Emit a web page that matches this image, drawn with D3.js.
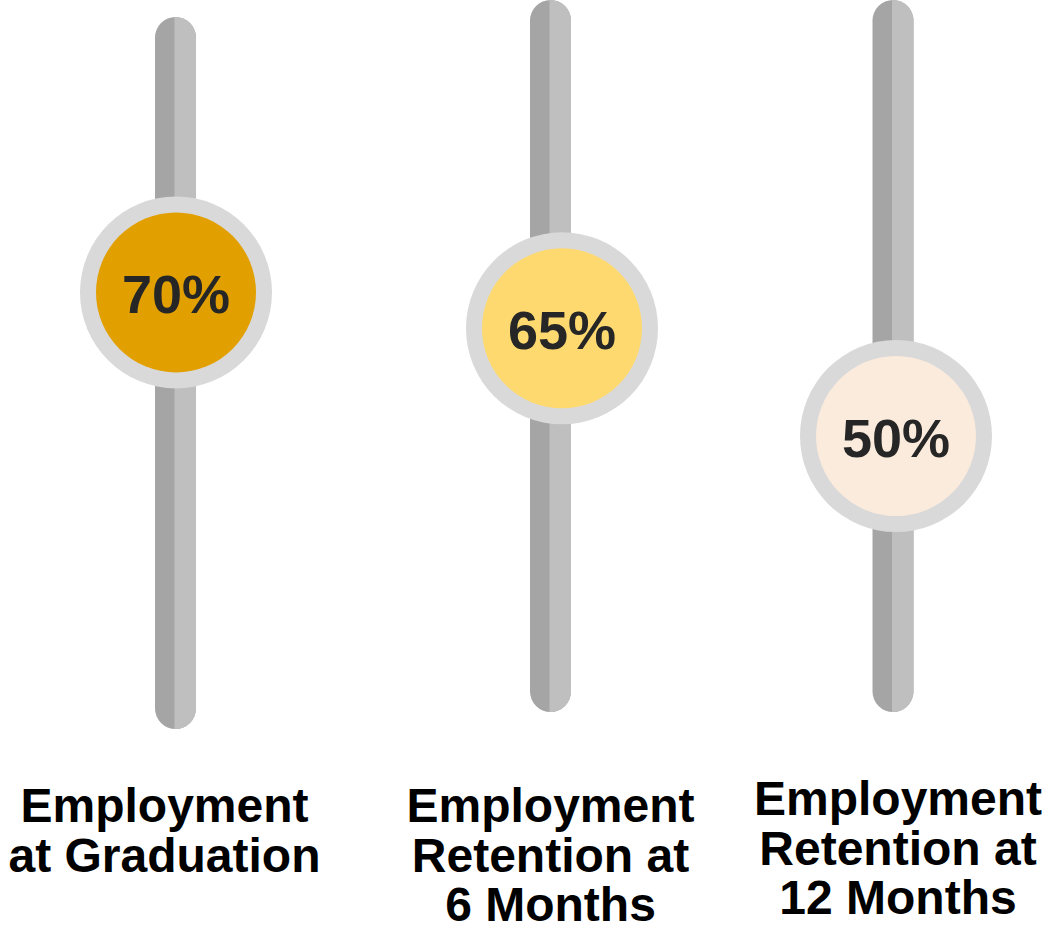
<!DOCTYPE html>
<html>
<head>
<meta charset="utf-8">
<script src="https://cdn.jsdelivr.net/npm/d3@7"></script>
<style>
  html, body { margin: 0; padding: 0; background: #fff; }
  svg { display: block; }
  text { font-family: "Liberation Sans", Arial, sans-serif; font-weight: bold; }
</style>
</head>
<body>
<div id="chart"></div>
<script>
// Data
const categories = ['grad', 'm6', 'm12'];
const values = [70, 65, 50];
const labels = [
  ['Employment', 'at Graduation'],
  ['Employment', 'Retention at', '6 Months'],
  ['Employment', 'Retention at', '12 Months']
];
const knobColors = ['#e2a000', '#fed96f', '#fbebdc'];

// Layout
const width = 1044, height = 926;
const trackW = 41;
const knobR = 96, ringW = 16;

const svg = d3.select('#chart').append('svg')
  .attr('width', width)
  .attr('height', height);

// column centres
const xScale = d3.scaleOrdinal().domain(categories).range([175.5, 550.5, 893]);
// per-column nudges (track offsets, knob and label shift)
const trackTop = { grad: 17, m6: 0, m12: 0 };
const knobDx = { grad: 0.5, m6: 11.5, m12: 3 };
const labelDx = { grad: -11, m6: 0, m12: 5 };
const labelTop = { grad: 822, m6: 822, m12: 815 };

// value -> vertical knob position
const yScale = d3.scaleLinear().domain([0, 100]).range([795, 77]);

const data = categories.map((c, i) => ({
  key: c, value: values[i], label: labels[i], color: knobColors[i]
}));

const defs = svg.append('defs');

const cols = svg.selectAll('g.col')
  .data(data)
  .join('g')
  .attr('class', 'col');

// Tracks: darker left half, lighter right half
cols.each(function(d, i) {
  const g = d3.select(this);
  const cx = xScale(d.key);
  const y0 = trackTop[d.key];
  const len = 712;
  defs.append('clipPath').attr('id', 'clipR' + i)
    .append('rect')
    .attr('x', cx - 1).attr('y', y0 - 5)
    .attr('width', trackW).attr('height', len + 10);
  g.append('rect')
    .attr('x', cx - trackW / 2).attr('y', y0)
    .attr('width', trackW).attr('height', len)
    .attr('rx', trackW / 2)
    .attr('fill', '#a5a5a5');
  g.append('rect')
    .attr('x', cx - trackW / 2).attr('y', y0)
    .attr('width', trackW).attr('height', len)
    .attr('rx', trackW / 2)
    .attr('clip-path', `url(#clipR${i})`)
    .attr('fill', '#bfbfbf');
});

// Knobs
const knobs = cols.append('g')
  .attr('transform', d => `translate(${xScale(d.key) + knobDx[d.key]}, ${yScale(d.value)})`);

knobs.append('circle')
  .attr('r', knobR)
  .attr('fill', '#d9d9d9');

knobs.append('circle')
  .attr('r', knobR - ringW)
  .attr('fill', d => d.color);

knobs.append('text')
  .attr('y', 21)
  .attr('text-anchor', 'middle')
  .attr('font-size', 54)
  .attr('fill', '#262626')
  .text(d => d.value + '%');

// Labels
cols.append('text')
  .attr('text-anchor', 'middle')
  .attr('font-size', 48)
  .attr('fill', '#000')
  .each(function(d) {
    const t = d3.select(this);
    d.label.forEach((line, j) => {
      t.append('tspan')
        .attr('x', xScale(d.key) + labelDx[d.key])
        .attr('y', labelTop[d.key] + j * 49.5)
        .text(line);
    });
  });
</script>
</body>
</html>
